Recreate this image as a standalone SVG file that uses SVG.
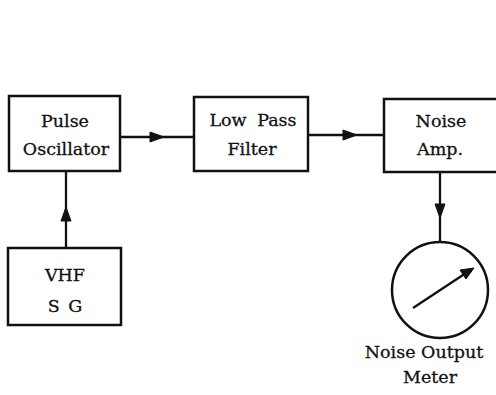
<svg xmlns="http://www.w3.org/2000/svg" width="496" height="395" viewBox="0 0 496 395">
<style>
.box{fill:none;stroke:#111;stroke-width:2.5}
.ln{fill:none;stroke:#111;stroke-width:2.3}
.ah{fill:#111;stroke:#111;stroke-width:1}
text{font-family:"DejaVu Serif","Liberation Serif",serif;font-size:17.5px;fill:#111;stroke:#111;stroke-width:0.3;text-anchor:middle}
</style>
<rect width="496" height="395" fill="#fff"/>
<g id="pulse-osc">
<rect class="box" x="9" y="96" width="111" height="75"/>
<text x="65" y="127">Pulse</text>
<text x="66" y="155">Oscillator</text>
</g>
<g id="lpf">
<rect class="box" x="194" y="97" width="114" height="74"/>
<text x="253" y="126" word-spacing="5">Low Pass</text>
<text x="252" y="155">Filter</text>
</g>
<g id="noise-amp">
<rect class="box" x="384" y="99" width="120" height="73"/>
<text x="441" y="127">Noise</text>
<text x="440" y="155">Amp.</text>
</g>
<g id="vhf-sg">
<rect class="box" x="8" y="248" width="113" height="77"/>
<text x="65" y="281">VHF</text>
<text x="65" y="312" word-spacing="3">S G</text>
</g>
<g id="meter">
<circle class="box" cx="440" cy="290" r="48"/>
<line class="ln" x1="413" y1="308" x2="466" y2="273"/>
<polygon class="ah" points="474,268 460,270 466,279"/>
<text x="424" y="358">Noise Output</text>
<text x="430" y="383">Meter</text>
</g>
<g id="connectors">
<line class="ln" x1="120" y1="137" x2="194" y2="137"/>
<polygon class="ah" points="164,137 150,132 150,142"/>
<line class="ln" x1="308" y1="135" x2="384" y2="135"/>
<polygon class="ah" points="357,135 343,130 343,140"/>
<line class="ln" x1="440" y1="172" x2="440" y2="242"/>
<polygon class="ah" points="440,218 435,204 445,204"/>
<line class="ln" x1="66" y1="248" x2="66" y2="171"/>
<polygon class="ah" points="66,207 61,221 71,221"/>
</g>
</svg>
